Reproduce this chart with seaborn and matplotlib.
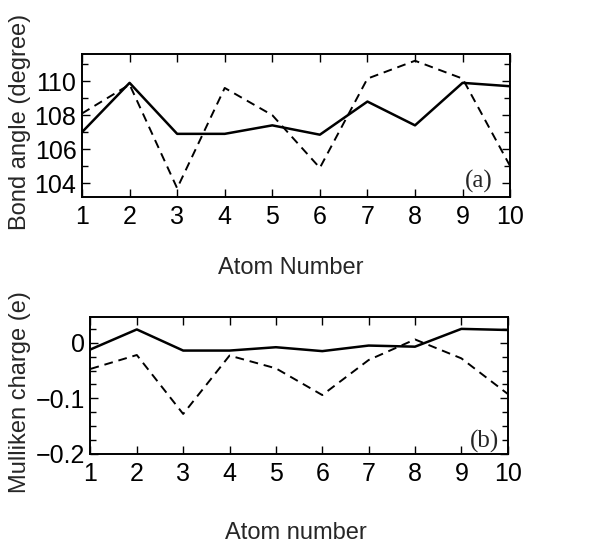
import matplotlib
matplotlib.use("Agg")
import matplotlib.pyplot as plt
import numpy as np
import pandas as pd
import seaborn as sns
from matplotlib.ticker import MultipleLocator, FixedLocator, FixedFormatter

atoms = [1, 2, 3, 4, 5, 6, 7, 8, 9, 10]
angle_solid = [107.0, 109.9, 106.9, 106.9, 107.4, 106.85, 108.8, 107.4, 109.9, 109.7]
angle_dashed = [108.1, 109.8, 103.7, 109.6, 108.0, 104.9, 110.15, 111.2, 110.15, 105.0]
charge_solid = [-0.012, 0.024, -0.014, -0.014, -0.008, -0.015, -0.005, -0.007, 0.025, 0.023]
charge_dashed = [-0.047, -0.022, -0.128, -0.023, -0.046, -0.094, -0.031, 0.006, -0.028, -0.092]

angle_ticks = [104, 106, 108, 110]
charge_ticks = [-0.2, -0.1, 0]
charge_labels = ["\u22120.2", "\u22120.1", "0"]


def style_axis(ax):
    ax.set_xlim(1, 10)
    ax.xaxis.set_major_locator(FixedLocator(atoms))
    ax.tick_params(which="both", direction="in", top=True, right=True, colors="black",
                   labelsize=18)
    ax.tick_params(axis="x", pad=6)
    ax.tick_params(axis="y", pad=4)
    ax.tick_params(which="major", length=6, width=1)
    ax.tick_params(which="minor", length=4.5, width=1)
    ax.set_xlabel("")
    ax.set_ylabel("")
    for s in ax.spines.values():
        s.set_color("black")
        s.set_linewidth(1.4)


def draw(ax, solid, dashed):
    sns.lineplot(x=atoms, y=solid, color="black", linewidth=1.8, ax=ax)
    sns.lineplot(x=atoms, y=dashed, color="black", linewidth=1.4,
                 linestyle=(0, (4.5, 3)), ax=ax)


def main():
    sns.set_style("ticks")
    plt.rcParams["font.family"] = ["Liberation Sans", "DejaVu Sans"]
    fig = plt.figure(figsize=(6.03, 5.45), dpi=100)

    ax1 = fig.add_axes([0.136, 0.639, 0.710, 0.262])
    draw(ax1, angle_solid, angle_dashed)
    style_axis(ax1)
    ax1.set_ylim(103.2, 111.6)
    ax1.yaxis.set_major_locator(FixedLocator(angle_ticks))
    ax1.yaxis.set_minor_locator(MultipleLocator(1))
    ax1.text(0.958, 0.11, "(a)", transform=ax1.transAxes, ha="right", va="center",
             fontsize=18, family="Liberation Serif")

    ax2 = fig.add_axes([0.150, 0.167, 0.692, 0.252])
    draw(ax2, charge_solid, charge_dashed)
    style_axis(ax2)
    ax2.set_ylim(-0.2, 0.047)
    ax2.yaxis.set_major_locator(FixedLocator(charge_ticks))
    ax2.yaxis.set_major_formatter(FixedFormatter(charge_labels))
    ax2.yaxis.set_minor_locator(MultipleLocator(0.025))
    ax2.text(0.98, 0.09, "(b)", transform=ax2.transAxes, ha="right", va="center",
             fontsize=18, family="Liberation Serif")

    fig.text(291 / 603, 1 - 268 / 545, "Atom Number", ha="center", va="center",
             fontsize=17)
    fig.text(296 / 603, 1 - 533 / 545, "Atom number", ha="center", va="center",
             fontsize=17)
    fig.text(20 / 603, 1 - 122 / 545, "Bond angle (degree)", ha="center", va="center",
             rotation=90, fontsize=17)
    fig.text(20 / 603, 1 - 392 / 545, "Mulliken charge (e)", ha="center", va="center",
             rotation=90, fontsize=17)

    fig.savefig("out.png", dpi=100)


if __name__ == "__main__":
    main()
